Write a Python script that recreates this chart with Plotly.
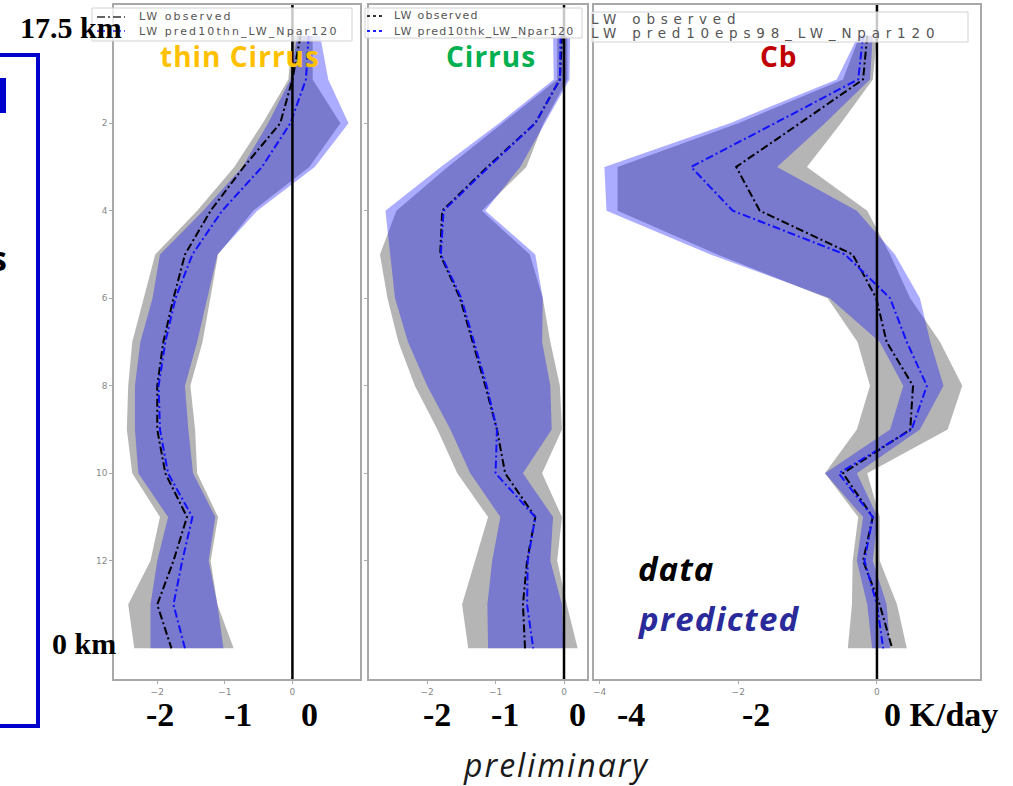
import plotly.graph_objects as go

levels = list(range(15))

# ---- panel 1: thin Cirrus ----
thn_obs = [0.12, 0.00, -0.18, -0.72, -1.21, -1.59, -1.76, -1.91, -2.00, -2.00, -1.88, -1.56, -1.76, -2.00, -1.79]
thn_pred = [0.24, 0.20, -0.03, -0.45, -1.04, -1.48, -1.73, -1.88, -1.98, -1.96, -1.84, -1.48, -1.63, -1.76, -1.59]
thn_obs_lo = [0.00, -0.06, -0.44, -0.86, -1.41, -2.03, -2.20, -2.37, -2.43, -2.45, -2.37, -1.96, -2.10, -2.43, -2.34]
thn_obs_hi = [0.30, 0.30, 0.71, 0.25, -0.58, -1.10, -1.21, -1.33, -1.51, -1.44, -1.41, -1.10, -1.21, -1.11, -0.87]
thn_pred_lo = [0.07, -0.03, -0.36, -0.74, -1.32, -1.96, -2.07, -2.25, -2.33, -2.33, -2.28, -1.84, -2.00, -2.10, -2.10]
thn_pred_hi = [0.41, 0.53, 0.83, 0.33, -0.52, -1.11, -1.26, -1.41, -1.59, -1.54, -1.47, -1.14, -1.24, -1.11, -1.02]

# ---- panel 2: Cirrus ----
thk_obs = [-0.03, -0.06, -0.42, -1.12, -1.78, -1.81, -1.52, -1.33, -1.15, -0.98, -0.86, -0.42, -0.54, -0.60, -0.57]
thk_pred = [-0.05, -0.06, -0.42, -1.10, -1.76, -1.80, -1.50, -1.31, -1.13, -0.98, -1.00, -0.42, -0.53, -0.54, -0.45]
thk_obs_lo = [-0.10, -0.10, -0.90, -1.70, -2.45, -2.69, -2.58, -2.42, -2.18, -1.85, -1.56, -1.11, -1.30, -1.49, -1.40]
thk_obs_hi = [0.05, 0.05, -0.30, -0.55, -1.20, -0.50, -0.31, -0.20, -0.06, -0.03, -0.32, -0.03, -0.10, 0.04, 0.20]
thk_pred_lo = [-0.16, -0.15, -0.95, -1.80, -2.61, -2.54, -2.47, -2.28, -2.00, -1.66, -1.37, -0.93, -1.05, -1.12, -1.11]
thk_pred_hi = [0.09, 0.08, -0.28, -0.64, -1.15, -0.42, -0.31, -0.32, -0.20, -0.18, -0.60, -0.16, -0.20, -0.03, -0.01]

# ---- panel 3: Cb ----
cb_obs = [-0.14, -0.20, -1.11, -2.03, -1.69, -0.35, -0.01, 0.14, 0.52, 0.48, -0.49, -0.06, -0.20, 0.04, 0.22]
cb_pred = [-0.20, -0.27, -1.47, -2.68, -2.08, -0.46, 0.19, 0.43, 0.72, 0.50, -0.55, -0.06, -0.18, 0.00, 0.09]
cb_obs_lo = [-0.25, -0.49, -2.00, -3.74, -3.74, -2.30, -0.71, -0.28, -0.10, -0.29, -0.75, -0.27, -0.35, -0.36, -0.42]
cb_obs_hi = [0.00, -0.06, -0.52, -1.01, -0.14, 0.19, 0.48, 0.91, 1.23, 1.02, -0.14, 0.04, 0.04, 0.29, 0.43]
cb_pred_lo = [-0.27, -0.58, -2.12, -3.93, -3.90, -2.40, -0.68, 0.04, 0.38, 0.19, -0.75, -0.20, -0.29, -0.14, -0.07]
cb_pred_hi = [-0.06, -0.10, -0.75, -1.44, -0.29, 0.26, 0.62, 0.77, 0.96, 0.62, -0.29, 0.01, -0.06, 0.14, 0.19]

obs_label = "LW observed"
pred_labels = ["LW pred10thn_LW_Npar120", "LW pred10thk_LW_Npar120", "LW pred10eps98_LW_Npar120"]
titles = ["thin Cirrus", "Cirrus", "Cb"]

panels = [
    dict(obs=thn_obs, pred=thn_pred, olo=thn_obs_lo, ohi=thn_obs_hi, plo=thn_pred_lo, phi=thn_pred_hi),
    dict(obs=thk_obs, pred=thk_pred, olo=thk_obs_lo, ohi=thk_obs_hi, plo=thk_pred_lo, phi=thk_pred_hi),
    dict(obs=cb_obs, pred=cb_pred, olo=cb_obs_lo, ohi=cb_obs_hi, plo=cb_pred_lo, phi=cb_pred_hi),
]

W, H = 1013, 786
def px(v):
    return v / W
def py(v):
    return 1 - v / H

DASH = "8px,3px,2px,3px"
fig = go.Figure()
for i, p in enumerate(panels):
    k = "" if i == 0 else str(i + 1)
    xa, ya = "x" + k, "y" + k
    fig.add_trace(go.Scatter(x=p["olo"] + p["ohi"][::-1], y=levels + levels[::-1], xaxis=xa, yaxis=ya,
                             fill="toself", fillcolor="rgba(128,128,128,0.58)", line=dict(width=0),
                             mode="lines", showlegend=False, hoverinfo="skip"))
    fig.add_trace(go.Scatter(x=p["plo"] + p["phi"][::-1], y=levels + levels[::-1], xaxis=xa, yaxis=ya,
                             fill="toself", fillcolor="rgba(0,0,255,0.33)", line=dict(width=0),
                             mode="lines", showlegend=False, hoverinfo="skip"))
    fig.add_trace(go.Scatter(x=p["obs"], y=levels, xaxis=xa, yaxis=ya, mode="lines", name=obs_label,
                             line=dict(color="black", width=2, dash=DASH), showlegend=False))
    fig.add_trace(go.Scatter(x=p["pred"], y=levels, xaxis=xa, yaxis=ya, mode="lines", name=pred_labels[i],
                             line=dict(color="#1010ff", width=2, dash=DASH), showlegend=False))
    fig.add_shape(type="line", xref=xa, yref=ya + " domain", x0=0, x1=0, y0=0, y1=1,
                  line=dict(color="black", width=2.5))

ydom = [py(679), py(5)]
axstyle = dict(showgrid=False, zeroline=False, showline=True, mirror=True, linecolor="#a8a8a8",
               linewidth=1.5, ticks="outside", ticklen=3, tickcolor="#aaaaaa",
               tickfont=dict(size=9, color="#888888", family="DejaVu Sans"))
fig.update_layout(
    xaxis=dict(domain=[px(114), px(360)], range=[-2.64, 1.0], tickvals=[-2, -1, 0], anchor="y", **axstyle),
    yaxis=dict(domain=ydom, range=[14.7, -0.7], tickvals=[2, 4, 6, 8, 10, 12], anchor="x", **axstyle),
    xaxis2=dict(domain=[px(369), px(587)], range=[-2.85, 0.336], tickvals=[-2, -1, 0], anchor="y2", **axstyle),
    yaxis2=dict(domain=ydom, range=[14.7, -0.7], tickvals=[2, 4, 6, 8, 10, 12], showticklabels=False,
                anchor="x2", **axstyle),
    xaxis3=dict(domain=[px(594), px(980)], range=[-4.08, 1.486], tickvals=[-4, -2, 0], anchor="y3", **axstyle),
    yaxis3=dict(domain=ydom, range=[14.7, -0.7], tickvals=[], showticklabels=False, anchor="x3", **axstyle),
)

ann = []
def A(text, x, y, size, color="black", family="Liberation Serif", xanchor="center", spacing=None):
    if spacing is not None:
        text = '<span style="letter-spacing:%spx">%s</span>' % (spacing, text)
    ann.append(dict(text=text, x=px(x), y=py(y), xref="paper", yref="paper", showarrow=False,
                    xanchor=xanchor, yanchor="middle", font=dict(size=size, color=color, family=family)))

# matplotlib-style legend boxes (one per panel)
legend_boxes = [(92, 352, 8, 41), (365, 582, 8, 38), (592, 968, 12, 42)]
legend_text_x = [137, 392, 589]
legend_rows = [(17, 31), (16, 31), (19, 33)]
legend_font = [(11, 2.1), (11, 1.3), (13.5, 5.8)]
for i in range(3):
    x0, x1, y0, y1 = legend_boxes[i]
    fig.add_shape(type="rect", xref="paper", yref="paper", x0=px(x0), x1=px(x1), y0=py(y1), y1=py(y0),
                  line=dict(color="#d2d2d2", width=1), fillcolor="rgba(255,255,255,0.78)", layer="above")
    r1, r2 = legend_rows[i]
    if i == 0:
        fig.add_shape(type="line", xref="paper", yref="paper", x0=px(97), x1=px(125), y0=py(r1), y1=py(r1),
                      line=dict(color="#333333", width=1.5, dash=DASH))
        fig.add_shape(type="line", xref="paper", yref="paper", x0=px(97), x1=px(125), y0=py(r2), y1=py(r2),
                      line=dict(color="#2020ff", width=1.5, dash=DASH))
    elif i == 1:
        fig.add_shape(type="line", xref="paper", yref="paper", x0=px(367), x1=px(383), y0=py(r1), y1=py(r1),
                      line=dict(color="#333333", width=2, dash="dot"))
        fig.add_shape(type="line", xref="paper", yref="paper", x0=px(367), x1=px(383), y0=py(r2), y1=py(r2),
                      line=dict(color="#2020ff", width=2, dash="dot"))
    fs, sp = legend_font[i]
    A(obs_label, legend_text_x[i], r1, fs, color="#555555", family="DejaVu Sans", xanchor="left", spacing=sp)
    A(pred_labels[i], legend_text_x[i], r2, fs, color="#555555", family="DejaVu Sans", xanchor="left", spacing=sp)

A("<b>17.5 km</b>", 71, 28, 30)
A("<b>0 km</b>", 84, 643, 30)
for t, x in [("-2", 160), ("-1", 238), ("0", 309), ("-2", 437), ("-1", 505), ("0", 577), ("-4", 631), ("-2", 756)]:
    A("<b>%s</b>" % t, x, 714, 34)
A("<b>0 K/day</b>", 882, 714, 34, xanchor="left")
title_colors = ["#FFC000", "#00B050", "#C00000"]
title_x = [240, 491, 779]
for i in range(3):
    A("<b>%s</b>" % titles[i], title_x[i], 56, 28, color=title_colors[i], family="Open Sans", spacing=1)
A("<b><i>data</i></b>", 636, 568, 33, color="black", family="Open Sans", xanchor="left", spacing=1)
A("<b><i>predicted</i></b>", 635, 618, 33, color="#2A2A9A", family="Open Sans", xanchor="left", spacing=1.3)
A("<i>preliminary</i>", 556, 764, 32, color="#1a1a1a", family="Open Sans", spacing=2)
A("<b>s</b>", 9, 258, 34, color="black", family="Open Sans", xanchor="right")
fig.update_layout(annotations=ann)

fig.add_shape(type="rect", xref="paper", yref="paper", x0=-0.02, x1=px(38), y0=py(726), y1=py(55),
              line=dict(color="#0000CC", width=4))
fig.add_shape(type="rect", xref="paper", yref="paper", x0=-0.01, x1=px(6), y0=py(113), y1=py(78),
              line=dict(width=0), fillcolor="#0000CC")

fig.update_layout(width=W, height=H, margin=dict(l=0, r=0, t=0, b=0), paper_bgcolor="white",
                  plot_bgcolor="white", showlegend=False)
fig.write_html("out.html", config={"displayModeBar": False},
               post_script="document.body.style.margin='0px';")
